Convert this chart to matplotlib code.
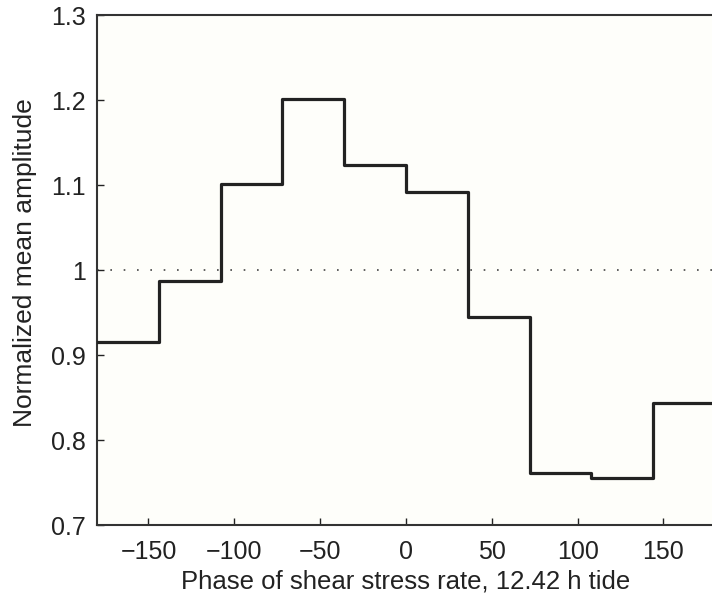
import matplotlib.pyplot as plt
import numpy as np

plt.rcParams["font.family"] = "Liberation Sans"
plt.rcParams.update({'font.size': 18})

# bin edges (deg) and normalized amplitude per bin
edges = [-180, -144, -108, -72, -36, 0, 36, 72, 108, 144, 180]
amp = [0.915, 0.987, 1.101, 1.201, 1.123, 1.092, 0.945, 0.761, 0.755, 0.844]
xticks = [-150, -100, -50, 0, 50, 100, 150]
yticks = [0.7, 0.8, 0.9, 1.0, 1.1, 1.2, 1.3]
ytlabels = ['0.7', '0.8', '0.9', '1', '1.1', '1.2', '1.3']

fig = plt.figure(figsize=(7.12, 5.96), dpi=100)
fig.patch.set_facecolor('white')
ax = fig.add_axes([0.1362, 0.1191, 0.868, 0.8557])
ax.set_facecolor('#fefefa')

ax.axhline(1.0, color='#444444', linewidth=1.2, linestyle=(0, (1, 7)), zorder=1)
ax.step(edges, amp + [amp[-1]], where='post', color='#222222', linewidth=2.3, zorder=3)

ax.set_xlim(-180, 180)
ax.set_ylim(0.7, 1.3)
ax.set_xticks(xticks)
ax.set_xticklabels(['\u2212150', '\u2212100', '\u221250', '0', '50', '100', '150'])
ax.set_yticks(yticks)
ax.set_yticklabels(ytlabels)
ax.tick_params(axis='both', direction='in', length=5, width=1, colors='#222222', labelsize=18)
ax.tick_params(axis='x', pad=11)
ax.tick_params(axis='y', pad=8)
for s in ax.spines.values():
    s.set_color('#333333')
    s.set_linewidth(1.5)

ax.set_xlabel('Phase of shear stress rate, 12.42 h tide', fontsize=18.5, color='#222222', labelpad=4)
ax.set_ylabel('Normalized mean amplitude', fontsize=19, color='#222222', labelpad=10, y=0.514)

fig.savefig('out.png', dpi=100)
